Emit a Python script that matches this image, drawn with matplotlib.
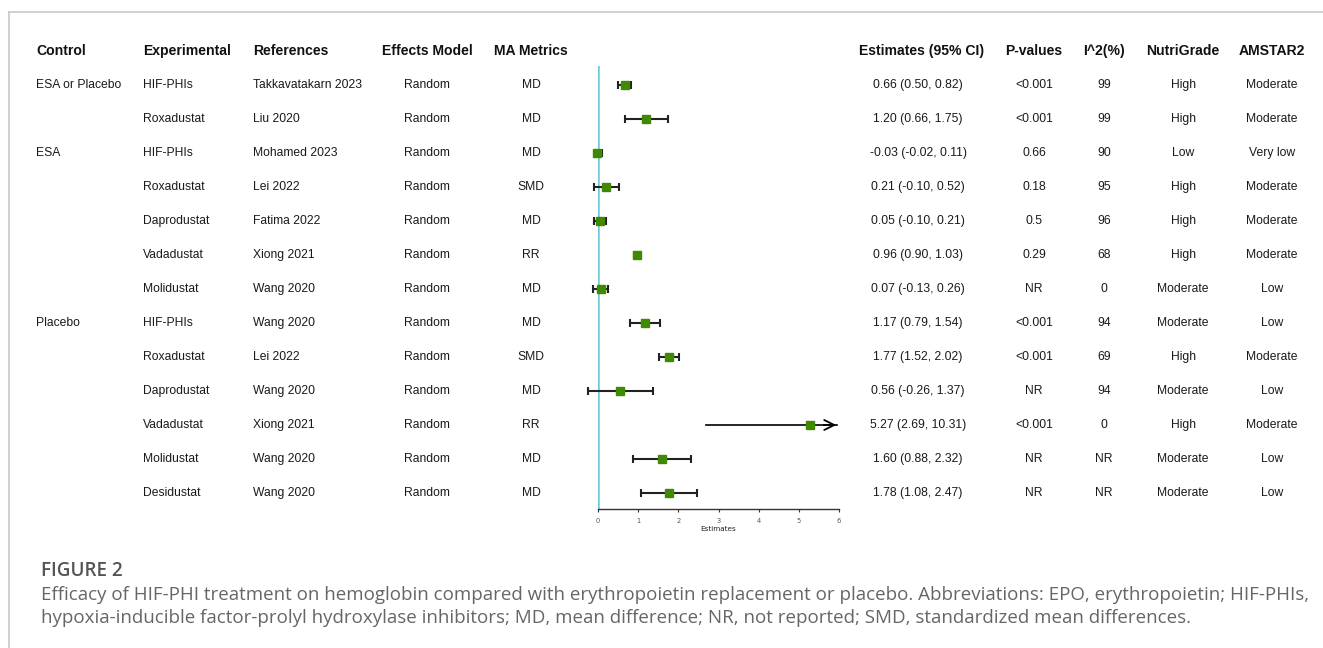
import matplotlib
matplotlib.use("Agg")
import matplotlib.pyplot as plt
from matplotlib.transforms import blended_transform_factory
from matplotlib.lines import Line2D

# ---------------- data ----------------
control = ["ESA or Placebo", "", "ESA", "", "", "", "", "Placebo", "", "", "", "", ""]
experimental = ["HIF-PHIs", "Roxadustat", "HIF-PHIs", "Roxadustat", "Daprodustat", "Vadadustat",
                "Molidustat", "HIF-PHIs", "Roxadustat", "Daprodustat", "Vadadustat", "Molidustat",
                "Desidustat"]
references = ["Takkavatakarn 2023", "Liu 2020", "Mohamed 2023", "Lei 2022", "Fatima 2022",
              "Xiong 2021", "Wang 2020", "Wang 2020", "Lei 2022", "Wang 2020", "Xiong 2021",
              "Wang 2020", "Wang 2020"]
effects_model = ["Random"] * 13
ma_metrics = ["MD", "MD", "MD", "SMD", "MD", "RR", "MD", "MD", "SMD", "MD", "RR", "MD", "MD"]
estimate = [0.66, 1.20, -0.03, 0.21, 0.05, 0.96, 0.07, 1.17, 1.77, 0.56, 5.27, 1.60, 1.78]
ci_low = [0.50, 0.66, -0.02, -0.10, -0.10, 0.90, -0.13, 0.79, 1.52, -0.26, 2.69, 0.88, 1.08]
ci_high = [0.82, 1.75, 0.11, 0.52, 0.21, 1.03, 0.26, 1.54, 2.02, 1.37, 10.31, 2.32, 2.47]
p_values = ["<0.001", "<0.001", "0.66", "0.18", "0.5", "0.29", "NR", "<0.001", "<0.001", "NR",
            "<0.001", "NR", "NR"]
i2 = ["99", "99", "90", "95", "96", "68", "0", "94", "69", "94", "0", "NR", "NR"]
nutrigrade = ["High", "High", "Low", "High", "High", "High", "Moderate", "Moderate", "High",
              "Moderate", "High", "Moderate", "Moderate"]
amstar2 = ["Moderate", "Moderate", "Very low", "Moderate", "Moderate", "Moderate", "Low", "Low",
           "Moderate", "Low", "Moderate", "Low", "Low"]
headers = ["Control", "Experimental", "References", "Effects Model", "MA Metrics",
           "Estimates (95% CI)", "P-values", "I^2(%)", "NutriGrade", "AMSTAR2"]
x_ticks = [0, 1, 2, 3, 4, 5, 6]

# ---------------- layout ----------------
W, H = 1323, 648
fig = plt.figure(figsize=(W / 100, H / 100), dpi=100)
fig.patch.set_facecolor("white")

def fx(px):
    return px / W

def fy(py):
    return 1 - py / H

# border lines (top and left)
fig.add_artist(Line2D([fx(9), 1], [fy(12), fy(12)], color="#c8c8c8", lw=1.2))
fig.add_artist(Line2D([fx(9), fx(9)], [fy(12), 0], color="#c8c8c8", lw=1.2))

n = len(estimate)
ax_left, ax_right = 598, 839
ax_top, ax_bot = 66, 509
ax = fig.add_axes([fx(ax_left), fy(ax_bot), fx(ax_right - ax_left), (ax_bot - ax_top) / H])
row_px = 34
first_row_px = 85
ylo = -(first_row_px - ax_top) / row_px
yhi = (n - 1) + (ax_bot - (first_row_px + row_px * (n - 1))) / row_px
ax.set_ylim(yhi, ylo)
ax.set_xlim(0, 6)

xmax = 6
ax.axvline(0, color="#6ccad8", lw=1.8, zorder=1)
bar_col = "#222222"
for i in range(n):
    lo, hi, est = ci_low[i], ci_high[i], estimate[i]
    if hi > xmax:
        ax.plot([lo, xmax - 0.05], [i, i], color="black", lw=1.2, zorder=2, clip_on=False)
        ax.annotate("", xy=(xmax, i), xytext=(xmax - 0.45, i),
                    arrowprops=dict(arrowstyle="->", color="black", lw=1.3,
                                    mutation_scale=18), zorder=3, annotation_clip=False)
    else:
        ax.plot([lo, hi], [i, i], color=bar_col, lw=1.5, zorder=2, clip_on=False,
                solid_capstyle="butt")
        ax.plot([lo, hi], [i, i], color=bar_col, lw=0, marker="|", markersize=6,
                markeredgewidth=1.5, zorder=2, clip_on=False)
    ax.plot(est, i, marker="s", markersize=6.2, color="#3f8a00", markeredgecolor="#3f8a00",
            zorder=4, linestyle="none", clip_on=False)

for s in ["top", "right", "left"]:
    ax.spines[s].set_visible(False)
ax.spines["bottom"].set_color("#333333")
ax.spines["bottom"].set_linewidth(1.0)
ax.set_yticks([])
ax.set_xticks(x_ticks)
ax.set_xticklabels([str(t) for t in x_ticks])
ax.tick_params(axis="x", labelsize=4.8, colors="#333333", labelcolor="#555555", length=2.5,
               width=0.8, pad=4)
ax.set_xlabel("Estimates", fontsize=5.2, color="#222222", labelpad=1.5)
ax.patch.set_alpha(0)

# ---------------- table text ----------------
tr = blended_transform_factory(fig.transFigure, ax.transData)
fam = ["Liberation Sans", "DejaVu Sans"]
body = dict(fontsize=8.7, family=fam, color="#1a1a1a", va="center", transform=tr, clip_on=False)
head = dict(fontsize=10.1, family=fam, color="#111111", va="center", weight="bold", transform=tr,
            clip_on=False)

# columns: (pixel x, alignment, values)
cols = [
    (36, "left", control),
    (143, "left", experimental),
    (253, "left", references),
    (427, "center", effects_model),
    (531, "center", ma_metrics),
    (918, "center", [f"{e:.2f} ({l:.2f}, {h:.2f})" for e, l, h in zip(estimate, ci_low, ci_high)]),
    (1034, "center", p_values),
    (1104, "center", i2),
    (1183, "center", nutrigrade),
    (1272, "center", amstar2),
]
header_x = [36, 143, 253, 427, 531, 922, 1034, 1104, 1183, 1272]
header_ha = ["left", "left", "left", "center", "center", "center", "center", "center", "center",
             "center"]
for hx, ha, h in zip(header_x, header_ha, headers):
    fig.text(fx(hx), -1, h, ha=ha, **head)
for cx, ha, vals in cols:
    for i, v in enumerate(vals):
        if v:
            fig.text(fx(cx), i, v, ha=ha, **body)

# ---------------- caption ----------------
cap_fam = ["Open Sans", "DejaVu Sans"]
fig.text(fx(41), fy(571), "FIGURE 2", fontsize=13.6, family=cap_fam, weight="semibold",
         color="#555555", va="center", ha="left")
fig.text(fx(41), fy(595),
         "Efficacy of HIF-PHI treatment on hemoglobin compared with erythropoietin replacement or "
         "placebo. Abbreviations: EPO, erythropoietin; HIF-PHIs,",
         fontsize=13.5, family=cap_fam, color="#666666", va="center", ha="left")
fig.text(fx(41), fy(618),
         "hypoxia-inducible factor-prolyl hydroxylase inhibitors; MD, mean difference; NR, not "
         "reported; SMD, standardized mean differences.",
         fontsize=13.5, family=cap_fam, color="#666666", va="center", ha="left")

fig.savefig("out.png", dpi=100, facecolor="white")
